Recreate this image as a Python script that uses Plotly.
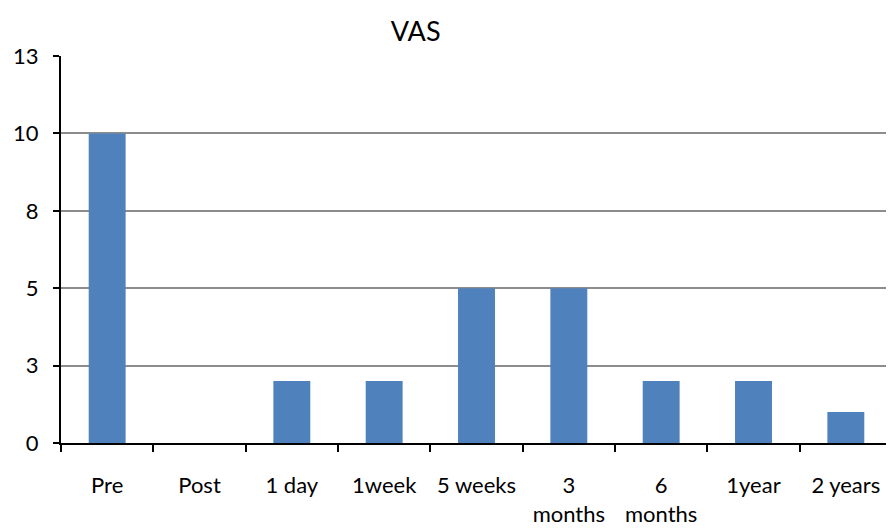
import plotly.graph_objects as go

# VAS scores over follow-up
categories = ["Pre", "Post", "1 day", "1week", "5 weeks", "3<br>months",
              "6<br>months", "1year", "2 years"]
vas_values = [10, 0, 2, 2, 5, 5, 2, 2, 1]

y_tickvals = [0, 2.5, 5, 7.5, 10, 12.5]
y_ticktext = ["0", "3", "5", "8", "10", "13"]

fig = go.Figure()
fig.add_trace(go.Bar(
    x=categories,
    y=vas_values,
    marker=dict(color="#4F81BD", line=dict(width=0)),
    width=0.4,
))

# page body has an 8px margin, so margins are offset accordingly
fig.update_layout(
    width=894,
    height=532,
    margin=dict(l=53, r=10, t=48, b=97),
    plot_bgcolor="white",
    paper_bgcolor="white",
    font=dict(family="Lato, Carlito, Open Sans, sans-serif", size=22, color="black"),
    title=dict(text="VAS", x=0.456, xanchor="center", y=0.955, yanchor="middle",
               font=dict(size=27)),
    showlegend=False,
    bargap=0.6,
)

fig.update_xaxes(
    type="category",
    automargin=False,
    showline=True, linecolor="black", linewidth=2,
    ticks="outside", ticklen=7, tickwidth=2, tickcolor="black",
    tickson="boundaries",
    ticklabelstandoff=22,
    showgrid=False,
)

fig.update_yaxes(
    range=[0, 12.5],
    automargin=False,
    tickvals=y_tickvals, ticktext=y_ticktext,
    showline=True, linecolor="black", linewidth=2,
    ticks="outside", ticklen=6, tickwidth=2, tickcolor="black",
    ticklabelstandoff=10,
    showgrid=True, gridcolor="#8C8C8C", gridwidth=2,
    zeroline=False,
)

fig.write_html("out.html")
